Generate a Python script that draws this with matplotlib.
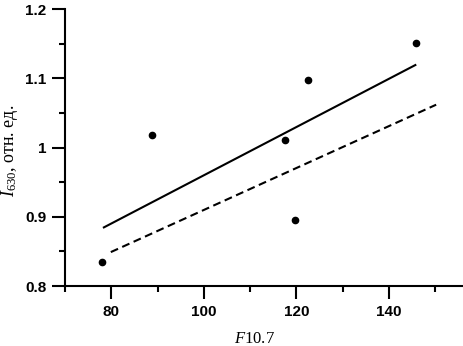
import matplotlib
matplotlib.use("Agg")
import matplotlib.pyplot as plt
from matplotlib.ticker import MultipleLocator, FuncFormatter

# Data
f107 = [78.1, 88.9, 117.6, 119.8, 122.6, 145.9]
i630 = [0.835, 1.018, 1.011, 0.895, 1.098, 1.151]

# regression lines (end points)
fit_x = [78.2, 145.9]
fit_y = [0.884, 1.120]
fit2_x = [79.9, 150.2]
fit2_y = [0.849, 1.062]

plt.rcParams["mathtext.fontset"] = "custom"
plt.rcParams["mathtext.rm"] = "Liberation Serif"
plt.rcParams["mathtext.it"] = "Liberation Serif:italic"

fig = plt.figure(figsize=(4.63, 3.46), dpi=100)
ax = fig.add_axes([0.1404, 0.1734, 0.8596, 0.8])

ax.plot(fit_x, fit_y, color="black", lw=1.5, solid_capstyle="butt")
ax.plot(fit2_x, fit2_y, color="black", lw=1.5, ls=(0, (3.8, 2.2)))
ax.plot(f107, i630, "o", color="black", ms=4.5)

ax.set_xlim(70, 156)
ax.set_ylim(0.8, 1.2)

ax.xaxis.set_major_locator(MultipleLocator(20))
ax.xaxis.set_minor_locator(MultipleLocator(10))
ax.yaxis.set_major_locator(MultipleLocator(0.1))
ax.yaxis.set_minor_locator(MultipleLocator(0.05))
ax.yaxis.set_major_formatter(FuncFormatter(lambda v, p: ("%.1f" % v).rstrip("0").rstrip(".")))

for s in ["top", "right"]:
    ax.spines[s].set_visible(False)
for s in ["left", "bottom"]:
    ax.spines[s].set_linewidth(1.5)

ax.tick_params(which="major", direction="out", length=9.5, width=1.5, pad=4)
ax.tick_params(which="minor", direction="out", length=4.5, width=1.5)
for lab in ax.get_xticklabels() + ax.get_yticklabels():
    lab.set_fontfamily("Liberation Sans")
    lab.set_fontweight("bold")
    lab.set_fontsize(11)

ax.set_xlabel("$F$10.7", family="Liberation Serif", fontsize=12)
ax.set_ylabel("$I_{630}$, отн. ед.", family="Liberation Serif", fontsize=13)
ax.xaxis.set_label_coords(0.475, -0.162)
ax.yaxis.set_label_coords(-0.113, 0.49)

fig.savefig("out.png", dpi=100)
